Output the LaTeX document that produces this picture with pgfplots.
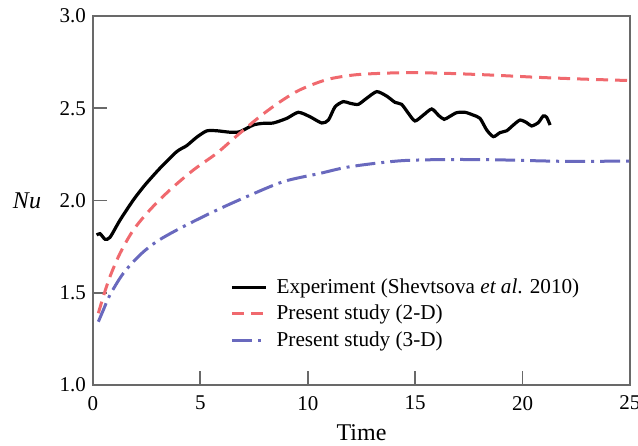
\documentclass[border=0pt]{standalone}
\usepackage{fontspec}
\setmainfont{Liberation Serif}
\usepackage{pgfplots}
\pgfplotsset{compat=1.18}
\usetikzlibrary{calc}

\definecolor{axgray}{RGB}{105,105,105}
\definecolor{red2d}{RGB}{240,105,110}
\definecolor{blue3d}{RGB}{105,105,190}

\begin{document}
\begin{tikzpicture}
\begin{axis}[
    name=ax,
    scale only axis,
    width=268.5pt, height=184.5pt,
    xmin=0, xmax=25, ymin=1, ymax=3,
    xtick={0,5,...,25},
    ytick={1,1.5,...,3},
    tick pos=left, tick align=inside,
    major tick length=7pt,
    every tick/.style={axgray, line width=0.9pt},
    axis line style={axgray, line width=0.9pt},
    /pgf/number format/assume math mode=true,
    yticklabel style={/pgf/number format/.cd, fixed, fixed zerofill, precision=1},
    xticklabel style={yshift=-2pt},
    ticklabel style={font=\fontsize{10.5}{12}\selectfont},
    xlabel={Time},
    ylabel={\textit{Nu}},
    xlabel style={at={(rel axis cs:0.5,0)}, anchor=center, yshift=-24pt, font=\fontsize{12}{14}\selectfont},
    ylabel style={at={(rel axis cs:0,0.5)}, anchor=center, rotate=-90, xshift=-33pt, font=\fontsize{12}{14}\selectfont},
    legend cell align=left,
    legend style={draw=none, fill=none, at={(rel axis cs:0.255,0.30)}, anchor=north west,
        inner sep=0pt, row sep=0.3pt, font=\fontsize{10.6}{12.5}\selectfont,
        nodes={inner xsep=4.5pt}},
]
% experiment
\addplot[black, line width=1.6pt, smooth, tension=0.4] coordinates {
(0.17,1.813) (0.33,1.82) (0.56,1.79) (0.79,1.80) (1.26,1.894) (1.88,2.003)
(2.42,2.084) (3.12,2.175) (3.90,2.265) (4.36,2.297) (4.83,2.343) (5.29,2.377)
(5.76,2.378) (6.38,2.370) (6.84,2.373) (7.46,2.409) (7.9,2.418) (8.39,2.42)
(9.02,2.445) (9.56,2.478) (10.10,2.454) (10.65,2.42) (10.96,2.436) (11.27,2.508)
(11.65,2.536) (11.96,2.527) (12.35,2.521) (12.74,2.554) (13.21,2.59) (13.67,2.566)
(14.06,2.532) (14.37,2.521) (14.68,2.473) (14.99,2.431) (15.38,2.463) (15.77,2.496)
(16.1,2.46) (16.35,2.44) (16.6,2.455) (16.93,2.476) (17.32,2.478) (17.70,2.463)
(18.02,2.445) (18.33,2.382) (18.64,2.346) (18.95,2.368) (19.26,2.378) (19.57,2.409)
(19.88,2.436) (20.19,2.422) (20.42,2.404) (20.73,2.422) (20.96,2.458) (21.12,2.451)
(21.28,2.409)
};
\addlegendentry{Experiment (Shevtsova \textit{et al}. 2010)}
% 2-D
\addplot[red2d, line width=1.5pt, dash pattern=on 6pt off 3.5pt, smooth] coordinates {
(0.25,1.389) (0.48,1.479) (0.79,1.587) (1.26,1.714) (1.88,1.84) (2.65,1.949)
(3.58,2.057) (4.67,2.165) (5.76,2.256) (6.69,2.35) (7.77,2.455) (8.71,2.535)
(9.64,2.60) (10.88,2.655) (12.12,2.68) (13.36,2.689) (14.76,2.693) (16.47,2.689)
(18.5,2.68) (20.8,2.667) (22.8,2.658) (25,2.65)
};
\addlegendentry{Present study (2-D)}
% 3-D
\addplot[blue3d, line width=1.5pt, dash pattern=on 10pt off 3pt on 1.5pt off 3pt, smooth] coordinates {
(0.25,1.343) (0.48,1.406) (0.79,1.488) (1.41,1.605) (2.19,1.705) (2.96,1.777)
(4.05,1.849) (5.60,1.939) (7.16,2.021) (8.86,2.102) (10.57,2.147) (11.96,2.183)
(14.29,2.215) (16.62,2.222) (18.95,2.22) (22.05,2.212) (25,2.214)
};
\addlegendentry{Present study (3-D)}
\end{axis}
\pgfresetboundingbox
\path ($(ax.south west)+(-46.5pt,-30.5pt)$) rectangle ($(ax.north east)+(4pt,8pt)$);
\end{tikzpicture}
\end{document}
